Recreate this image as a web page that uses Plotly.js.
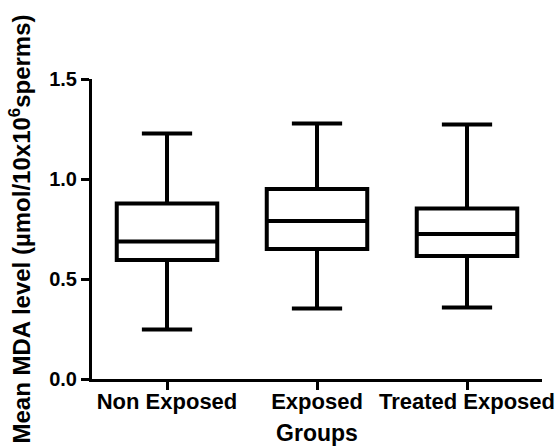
<!DOCTYPE html>
<html>
<head>
<meta charset="utf-8">
<script src="https://cdn.plot.ly/plotly-3.0.1.min.js"></script>
<style>html,body{margin:0;padding:0;background:#fff;}#chart{width:558px;height:446px;}</style>
</head>
<body>
<div id="chart"></div>
<script>
const groups = ["Non Exposed", "Exposed", "Treated Exposed"];
const lowerWhisker = [0.248, 0.353, 0.358];
const q1Values = [0.595, 0.650, 0.615];
const medianValues = [0.687, 0.790, 0.725];
const q3Values = [0.878, 0.950, 0.853];
const upperWhisker = [1.228, 1.278, 1.273];
const yTickVals = [0.0, 0.5, 1.0, 1.5];
const yTickText = ["0.0", "0.5", "1.0", "1.5"];

const fontFam = "Liberation Sans, Arial, sans-serif";

const trace = {
  type: "box",
  x: groups,
  q1: q1Values,
  median: medianValues,
  q3: q3Values,
  lowerfence: lowerWhisker,
  upperfence: upperWhisker,
  boxpoints: false,
  width: 0.67,
  whiskerwidth: 0.5,
  fillcolor: "rgba(255,255,255,0)",
  line: {color: "#000", width: 4},
  hoverinfo: "skip",
  showlegend: false
};

const layout = {
  width: 558,
  height: 446,
  margin: {l: 92, r: 16, t: 79, b: 67},
  paper_bgcolor: "#fff",
  plot_bgcolor: "#fff",
  showlegend: false,
  xaxis: {
    type: "category",
    range: [-0.5, 2.5],
    showline: true,
    linecolor: "#000",
    linewidth: 3,
    ticks: "outside",
    ticklen: 8,
    tickwidth: 3,
    tickcolor: "#000",
    ticklabelstandoff: -7,
    showgrid: false,
    zeroline: false,
    tickfont: {family: fontFam, size: 22, color: "#000", weight: "bold"},
    title: {text: "Groups", font: {family: fontFam, size: 23, color: "#000", weight: "bold"}, standoff: 16}
  },
  yaxis: {
    range: [0, 1.5],
    tickvals: yTickVals,
    ticktext: yTickText,
    showline: true,
    linecolor: "#000",
    linewidth: 3,
    ticks: "outside",
    ticklen: 8,
    tickwidth: 3,
    tickcolor: "#000",
    showgrid: false,
    zeroline: false,
    tickfont: {family: fontFam, size: 20, color: "#000", weight: "bold"},
    title: {text: "Mean MDA level (µmol/10x10<sup>6</sup>sperms)", font: {family: fontFam, size: 24, color: "#000", weight: "bold"}, standoff: 12}
  }
};

Plotly.newPlot("chart", [trace], layout, {staticPlot: true, displayModeBar: false});
</script>
</body>
</html>
